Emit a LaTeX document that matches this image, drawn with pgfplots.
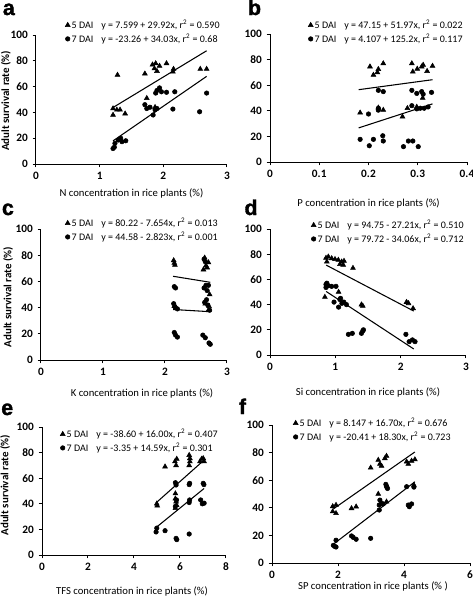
\documentclass[border=0pt]{standalone}
\usepackage{pgfplots}
\pgfplotsset{compat=1.18}
\usepackage{fontspec}
\setmainfont{Carlito}
\newfontfamily\letterfont[BoldFeatures={FakeBold=1.5}]{Liberation Sans}
\pgfplotsset{
  panel/.style={
    scale only axis, anchor=south west,
    axis lines=left, axis line style={-, line width=0.75pt, black},
    xmin=0, ymin=0, ymax=100, ytick={0,20,...,100},
    tick align=outside, major tick length=2.5pt,
    tick style={black, line width=0.75pt},
    ticklabel style={font=\fontsize{8.5}{10}\selectfont\bfseries},
    /pgf/number format/assume math mode=true,
    xlabel style={font=\fontsize{8}{10}\selectfont, anchor=center},
    ylabel style={font=\fontsize{8.2}{10}\selectfont\bfseries, anchor=center},
    legend cell align=left,
    legend style={draw=none, fill=none, font=\fontsize{7.5}{9}\selectfont,
      anchor=north west, row sep=0pt, inner sep=0pt,
      nodes={inner sep=1.2pt}},
    legend image code/.code={\draw[#1] plot coordinates {(0.1cm,0cm)};},
    clip=false,
  },
  s5/.style={only marks, mark=triangle*, mark size=2.1pt, black},
  s7/.style={only marks, mark=*, mark size=1.7pt, black},
  reg/.style={black, line width=0.8pt, no marks, forget plot},
}
\newcommand{\panellabel}[3]{\node[anchor=base west, inner sep=0pt, font=\letterfont\bfseries\fontsize{16}{18}\selectfont] at (#1,#2) {#3};}
\begin{document}
\begin{tikzpicture}
\path[use as bounding box] (0,0) rectangle (354.75pt,-447.75pt);
% ---------------- a ----------------
\begin{axis}[panel, at={(27pt,-123pt)}, width=143.25pt, height=96.75pt,
  xmax=3, xtick={0,1,2,3},
  xlabel={N concentration in rice plants (\%)},
  xlabel style={at={(axis description cs:0.5,-0.225)}},
  ylabel={Adult survival rate (\%)},
  ylabel style={at={(axis description cs:-0.157,0.49)}},
  legend style={at={(axis description cs:0.152,1.132)}}]
\addplot[s5] coordinates {(1.21,43) (1.27,42) (1.32,42) (1.40,39) (1.21,38) (1.28,69) (1.71,70) (1.74,51) (1.87,44) (1.83,77) (1.88,78) (1.94,76) (1.86,74) (1.90,72) (2.05,78) (2.16,73.6) (2.15,71.5) (2.58,73.6) (2.68,73.6)};
\addlegendentry{5 DAI\hspace{0.8em}y = 7.599 + 29.92x, r\textsuperscript{2} = 0.590}
\addplot[s7] coordinates {(1.21,12) (1.23,13) (1.24,16) (1.29,18.6) (1.35,17.3) (1.33,20) (1.41,18) (1.71,46) (1.74,43) (1.79,44) (1.84,38) (1.87,42) (1.90,43) (1.90,57) (1.94,59) (1.97,56) (1.88,55) (2.05,55.6) (2.18,56) (2.15,42.6) (2.57,40.5) (2.68,55)};
\addlegendentry{7 DAI\hspace{0.8em}y = -23.26 + 34.03x, r\textsuperscript{2} = 0.68}
\addplot[reg] coordinates {(1.21,43.80) (2.68,87.79)};
\addplot[reg] coordinates {(1.21,17.92) (2.68,67.94)};
\end{axis}
% ---------------- b ----------------
\begin{axis}[panel, at={(202.5pt,-121.5pt)}, width=147.75pt, height=96pt,
  xmax=0.4, xtick={0,0.1,0.2,0.3,0.4},
  xlabel={P concentration in rice plants (\%)},
  xlabel style={at={(axis description cs:0.5,-0.32)}},
  legend style={at={(axis description cs:0.193,1.125)}}]
\addplot[s5] coordinates {(0.183,38.5) (0.203,74.5) (0.21,68) (0.218,70) (0.220,72.5) (0.230,77) (0.22,42.4) (0.23,40.6) (0.269,35.4) (0.279,42) (0.288,77) (0.290,70.5) (0.299,72.7) (0.308,74.5) (0.311,75.8) (0.319,71) (0.330,75) (0.310,50) (0.298,43)};
\addlegendentry{5 DAI\hspace{0.8em}y = 47.15 + 51.97x, r\textsuperscript{2} = 0.022}
\addplot[s7] coordinates {(0.183,17.7) (0.2016,12.7) (0.200,37.5) (0.21,17.7) (0.22,56) (0.23,55) (0.22,42) (0.22,40.5) (0.229,20.5) (0.230,16.4) (0.271,12) (0.281,16.4) (0.290,16.4) (0.301,12) (0.288,56) (0.298,53.6) (0.308,55) (0.311,53) (0.328,54.4) (0.288,44) (0.298,41.5) (0.305,42) (0.313,42) (0.321,43)};
\addlegendentry{7 DAI\hspace{0.8em}y = 4.107 + 125.2x, r\textsuperscript{2} = 0.117}
\addplot[reg] coordinates {(0.18,56.50) (0.33,64.30)};
\addplot[reg] coordinates {(0.18,26.64) (0.33,45.42)};
\end{axis}
% ---------------- c ----------------
\begin{axis}[panel, at={(30.75pt,-270pt)}, width=139.5pt, height=98.25pt,
  xmax=3, xtick={0,1,2,3},
  xlabel={K concentration in rice plants (\%)},
  xlabel style={at={(axis description cs:0.543,-0.252)}},
  ylabel={Adult survival rate (\%)},
  ylabel style={at={(axis description cs:-0.177,0.48)}},
  legend style={at={(axis description cs:0.129,1.099)}}]
\addplot[s5] coordinates {(2.14,76) (2.15,74) (2.16,72.5) (2.18,40) (2.15,41) (2.64,78) (2.66,72) (2.70,74.5) (2.62,69) (2.68,70.5) (2.72,50) (2.65,43) (2.70,38) (2.71,41)};
\addlegendentry{5 DAI\hspace{0.8em}y = 80.22 - 7.654x, r\textsuperscript{2} = 0.013}
\addplot[s7] coordinates {(2.15,56) (2.17,55) (2.14,43) (2.16,40.5) (2.20,39) (2.15,21) (2.17,19) (2.20,17.5) (2.63,77) (2.65,75) (2.66,57) (2.63,55) (2.68,53) (2.70,57) (2.64,44) (2.67,46) (2.69,42) (2.72,38) (2.61,19) (2.65,17) (2.71,13) (2.73,12)};
\addlegendentry{7 DAI\hspace{0.8em}y = 44.58 - 2.823x, r\textsuperscript{2} = 0.001}
\addplot[reg] coordinates {(2.13,63.92) (2.73,59.32)};
\addplot[reg] coordinates {(2.13,38.57) (2.73,36.87)};
\end{axis}
% ---------------- d ----------------
\begin{axis}[panel, at={(202.5pt,-266.25pt)}, width=147pt, height=94.5pt,
  xmax=3, xtick={0,1,2,3},
  xlabel={Si concentration in rice plants (\%)},
  xlabel style={at={(axis description cs:0.5,-0.294)}},
  legend style={at={(axis description cs:0.209,1.087)}}]
\addplot[s5] coordinates {(0.857,77) (0.893,78) (0.944,76.7) (0.995,76) (1.046,75.4) (1.097,74) (1.133,74.6) (1.07,72) (1.12,71.5) (1.27,69) (0.84,46) (1.05,50) (1.40,40) (1.42,39) (2.09,42) (2.12,41) (2.19,37) (0.87,74)};
\addlegendentry{5 DAI\hspace{0.8em}y = 94.75 - 27.21x, r\textsuperscript{2} = 0.510}
\addplot[s7] coordinates {(0.857,56) (0.857,53.6) (0.87,57) (0.893,55) (0.944,54.5) (1.01,54.5) (0.98,42) (1.05,38) (1.07,44) (1.10,41) (1.13,42) (1.17,40) (1.08,45) (1.20,16.4) (1.26,17.2) (1.40,17.2) (1.42,19) (1.43,20) (2.08,16.4) (2.13,10.6) (2.18,12) (2.22,10.6)};
\addlegendentry{7 DAI\hspace{0.8em}y = 79.72 - 34.06x, r\textsuperscript{2} = 0.712}
\addplot[reg] coordinates {(0.86,71.35) (2.2,34.89)};
\addplot[reg] coordinates {(0.86,50.43) (2.2,4.79)};
\end{axis}
% ---------------- e ----------------
\begin{axis}[panel, at={(31.5pt,-416.25pt)}, width=138pt, height=96pt,
  xmax=8, xtick={0,2,4,6,8},
  xlabel={TFS concentration in rice plants (\%)},
  xlabel style={at={(axis description cs:0.489,-0.281)}},
  ylabel={Adult survival rate (\%)},
  ylabel style={at={(axis description cs:-0.2,0.545)}},
  legend style={at={(axis description cs:0.098,1.0)}}]
\addplot[s5] coordinates {(5.35,69) (5.78,73) (5.83,70) (5.86,75) (6.40,78) (6.43,75.5) (6.43,73) (6.40,70) (6.87,73) (6.94,75) (7.01,75.5) (7.05,73) (4.99,40) (5.01,38.5) (5.80,48) (5.80,44) (5.83,41.6) (5.85,39) (5.80,36.5)};
\addlegendentry{5 DAI\hspace{0.8em}y = -38.60 + 16.00x, r\textsuperscript{2} = 0.407}
\addplot[s7] coordinates {(5.80,56.5) (5.83,54.7) (6.42,56) (6.40,55) (7.01,56) (7.04,55) (6.42,43) (6.40,41) (6.90,43) (6.97,40) (7.05,40.5) (4.99,21) (4.96,18) (5.35,19) (5.83,13) (5.86,12) (6.40,16.4) (5.80,38) (5.85,43)};
\addlegendentry{7 DAI\hspace{0.8em}y = -3.35 + 14.59x, r\textsuperscript{2} = 0.301}
\addplot[reg] coordinates {(4.96,40.76) (7.05,74.2)};
\addplot[reg] coordinates {(4.96,21.5) (7.05,52.0)};
\end{axis}
% ---------------- f ----------------
\begin{axis}[panel, at={(204pt,-422.25pt)}, width=148.5pt, height=103.5pt,
  xmax=6, xtick={0,2,4,6},
  xlabel={SP concentration in rice plants (\% )},
  xlabel style={at={(axis description cs:0.51,-0.168)}},
  legend style={at={(axis description cs:0.106,1.065)}}]
\addplot[s5] coordinates {(1.84,41) (1.94,42) (1.84,37.3) (1.94,36) (2.41,39.6) (2.55,40.8) (2.99,69) (3.22,74.6) (3.27,71.7) (3.32,70.3) (3.42,75.8) (3.47,77.5) (4.08,73.4) (4.13,71.7) (4.23,74) (4.33,75) (3.22,50) (4.30,56.5) (3.47,44.4)};
\addlegendentry{5 DAI\hspace{0.8em}y = 8.147 + 16.70x, r\textsuperscript{2} = 0.676}
\addplot[s7] coordinates {(1.86,12.8) (1.94,11.6) (1.90,12) (1.94,16.5) (2.41,19.6) (2.46,18.6) (2.55,17.2) (2.99,17.9) (3.25,38.4) (3.25,42) (3.27,45.6) (3.32,43.2) (3.37,42.8) (3.45,57) (3.47,55.6) (3.50,54) (3.48,55) (4.08,55.3) (4.30,55) (4.13,42) (4.16,40.8) (4.23,42.8)};
\addlegendentry{7 DAI\hspace{0.8em}y = -20.41 + 18.30x, r\textsuperscript{2} = 0.723}
\addplot[reg] coordinates {(1.86,39.21) (4.33,80.46)};
\addplot[reg] coordinates {(1.86,13.63) (4.33,58.83)};
\end{axis}
% panel letters
\panellabel{2pt}{-11.25pt}{a}
\panellabel{185.8pt}{-11.25pt}{b}
\panellabel{1.3pt}{-161.25pt}{c}
\panellabel{183.2pt}{-161.25pt}{d}
\panellabel{0.75pt}{-311.25pt}{e}
\panellabel{179pt}{-310.5pt}{f}
\end{tikzpicture}
\end{document}
